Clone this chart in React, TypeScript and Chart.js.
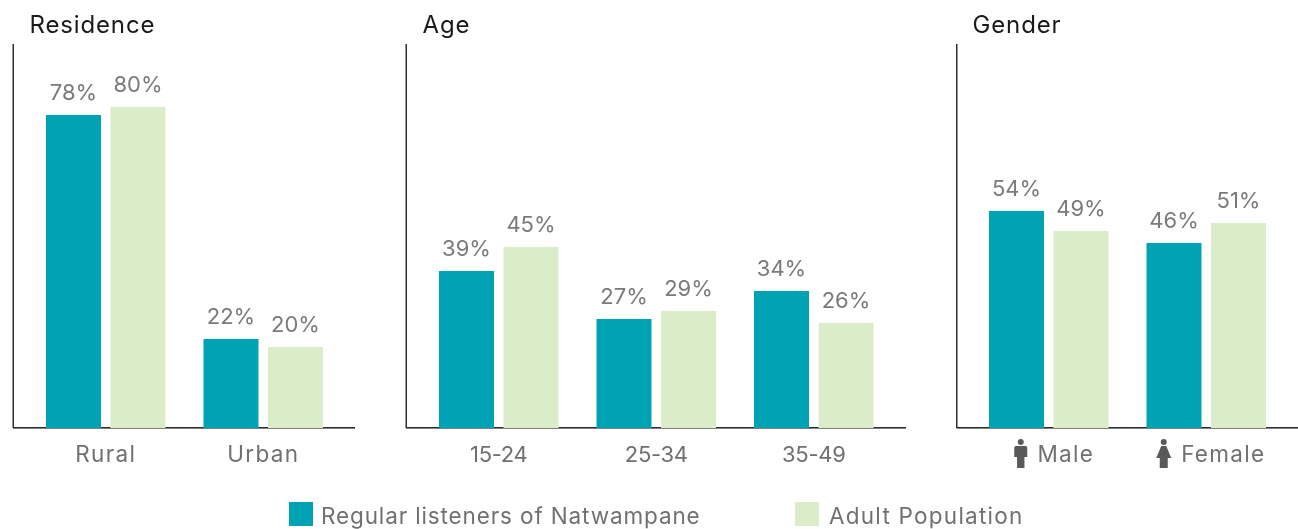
import React, { useEffect, useRef } from "react";
import { Chart, registerables } from "chart.js";

Chart.register(...registerables);

const FONT = "Inter";

const seriesNames = ["Regular listeners of Natwampane", "Adult Population"];
const seriesColors = ["#00A3B4", "#DBECC8"];

const residenceCategories = ["Rural", "Urban"];
const residenceListeners = [78, 22];
const residenceAdults = [80, 20];

const ageCategories = ["15-24", "25-34", "35-49"];
const ageListeners = [39, 27, 34];
const ageAdults = [45, 29, 26];

const genderCategories = ["Male", "Female"];
const genderListeners = [54, 46];
const genderAdults = [49, 51];

const panels = [
  { title: "Residence", categories: residenceCategories, a: residenceListeners, b: residenceAdults, left: 0, width: 368, axisLeft: 13, axisRight: 355, plotLeft: 27, plotRight: 342, labelOffset: 0, icons: false, tickSpacing: "1.3px", tickSize: 22.5 },
  { title: "Age", categories: ageCategories, a: ageListeners, b: ageAdults, left: 393, width: 525, axisLeft: 13, axisRight: 513, plotLeft: 27, plotRight: 499.5, labelOffset: 0, icons: false, tickSpacing: "-0.3px", tickSize: 22 },
  { title: "Gender", categories: genderCategories, a: genderListeners, b: genderAdults, left: 943, width: 355, axisLeft: 13.5, axisRight: 355, plotLeft: 27, plotRight: 342, labelOffset: 17, icons: true, tickSpacing: "1.3px", tickSize: 22.5 },
];

function drawMale(ctx: CanvasRenderingContext2D, cx: number) {
  ctx.beginPath();
  ctx.arc(cx, 442, 3, 0, Math.PI * 2);
  ctx.fill();
  ctx.beginPath();
  ctx.moveTo(cx - 5, 446);
  ctx.lineTo(cx + 5, 446);
  ctx.quadraticCurveTo(cx + 6.5, 446, cx + 6.5, 448);
  ctx.lineTo(cx + 6.5, 457);
  ctx.lineTo(cx + 3.7, 457);
  ctx.lineTo(cx + 3.7, 468);
  ctx.lineTo(cx - 3.7, 468);
  ctx.lineTo(cx - 3.7, 457);
  ctx.lineTo(cx - 6.5, 457);
  ctx.lineTo(cx - 6.5, 448);
  ctx.quadraticCurveTo(cx - 6.5, 446, cx - 5, 446);
  ctx.fill();
}

function drawFemale(ctx: CanvasRenderingContext2D, cx: number) {
  ctx.beginPath();
  ctx.arc(cx, 442, 3, 0, Math.PI * 2);
  ctx.fill();
  ctx.beginPath();
  ctx.moveTo(cx - 2.5, 446);
  ctx.lineTo(cx + 2.5, 446);
  ctx.lineTo(cx + 7.5, 458);
  ctx.lineTo(cx + 4, 458);
  ctx.lineTo(cx + 4, 468);
  ctx.lineTo(cx - 4, 468);
  ctx.lineTo(cx - 4, 458);
  ctx.lineTo(cx - 7.5, 458);
  ctx.closePath();
  ctx.fill();
}

function makePlugin(p: (typeof panels)[number]) {
  return {
    id: "panelDecor",
    beforeDraw(chart: any) {
      chart.ctx.letterSpacing = p.tickSpacing;
    },
    beforeDatasetsDraw(chart: any) {
      const { ctx, chartArea } = chart;
      ctx.save();
      ctx.lineWidth = 1;
      ctx.strokeStyle = "#808080";
      ctx.beginPath();
      ctx.moveTo(p.axisLeft, chartArea.bottom + 0.5);
      ctx.lineTo(p.axisRight, chartArea.bottom + 0.5);
      ctx.stroke();
      ctx.strokeStyle = "#2e2e2e";
      ctx.beginPath();
      ctx.moveTo(p.axisLeft, chartArea.bottom - 0.5);
      ctx.lineTo(p.axisRight, chartArea.bottom - 0.5);
      ctx.stroke();
      ctx.lineWidth = 1.5;
      ctx.beginPath();
      ctx.moveTo(p.axisLeft + 0.25, chartArea.top);
      ctx.lineTo(p.axisLeft + 0.25, chartArea.bottom);
      ctx.stroke();
      ctx.restore();
    },
    afterDatasetsDraw(chart: any) {
      const { ctx, chartArea } = chart;
      ctx.save();
      ctx.textAlign = "center";
      ctx.textBaseline = "alphabetic";
      ctx.fillStyle = "#7a7a7a";
      ctx.letterSpacing = "0px";
      ctx.font = `400 22px ${FONT}`;
      chart.data.datasets.forEach((ds: any, i: number) => {
        chart.getDatasetMeta(i).data.forEach((bar: any, j: number) => {
          ctx.fillText(`${ds.data[j]}%`, bar.x, bar.y - 15.5);
        });
      });
      ctx.fillStyle = "#1a1a1a";
      ctx.textAlign = "left";
      ctx.letterSpacing = "0.85px";
      ctx.font = `400 24px ${FONT}`;
      ctx.fillText(p.title, chartArea.left + 2.5, 33);
      ctx.letterSpacing = p.tickSpacing;
      if (p.icons) {
        const x = chart.scales.x;
        ctx.fillStyle = "#58595b";
        drawMale(ctx, x.getPixelForValue(0) - 28);
        drawFemale(ctx, x.getPixelForValue(1) - 42.5);
      }
      ctx.restore();
    },
  };
}

function Panel({ p }: { p: (typeof panels)[number] }) {
  const ref = useRef<HTMLCanvasElement>(null);
  useEffect(() => {
    const barStyle = { categoryPercentage: 0.819, barPercentage: 0.853, base: -0.25 };
    const chart = new Chart(ref.current!, {
      type: "bar",
      data: {
        labels: p.categories,
        datasets: [
          { label: seriesNames[0], data: p.a, backgroundColor: seriesColors[0], ...barStyle },
          { label: seriesNames[1], data: p.b, backgroundColor: seriesColors[1], ...barStyle },
        ],
      },
      options: {
        animation: false,
        responsive: false,
        devicePixelRatio: 1,
        layout: { padding: { left: p.plotLeft, right: p.width - p.plotRight, top: 44, bottom: 41 } },
        plugins: { legend: { display: false }, tooltip: { enabled: false }, title: { display: false } },
        scales: {
          x: {
            grid: { display: false },
            border: { display: false },
            afterFit(scale: any) {
              scale.height = 60;
            },
            ticks: {
              color: "#707070",
              padding: 6,
              labelOffset: p.labelOffset,
              maxRotation: 0,
              autoSkip: false,
              font: { family: FONT, size: p.tickSize, weight: "400" },
            },
          },
          y: { display: false, min: -0.25, max: 95.75 },
        },
      },
      plugins: [makePlugin(p)],
    } as any);
    return () => chart.destroy();
  }, [p]);
  return (
    <canvas
      ref={ref}
      width={p.width}
      height={529}
      style={{ position: "absolute", left: p.left, top: 0, width: p.width, height: 529 }}
    />
  );
}

const legendItems = [
  { swatchLeft: 289, textLeft: 321, spacing: "0.87px" },
  { swatchLeft: 795, textLeft: 829, spacing: "1.25px" },
];

export default function App() {
  return (
    <div style={{ position: "absolute", left: 0, top: 0, width: 1298, height: 529, overflow: "hidden", background: "#fff" }}>
      {panels.map((p) => (
        <Panel key={p.title} p={p} />
      ))}
      {seriesNames.map((name, i) => (
        <React.Fragment key={name}>
          <div style={{ position: "absolute", left: legendItems[i].swatchLeft, top: 502, width: 24, height: 24, background: seriesColors[i] }} />
          <div
            style={{
              position: "absolute",
              left: legendItems[i].textLeft,
              top: 502,
              lineHeight: "28px",
              whiteSpace: "nowrap",
              fontFamily: FONT,
              fontSize: 22.5,
              letterSpacing: legendItems[i].spacing,
              color: "#707070",
            }}
          >
            {name}
          </div>
        </React.Fragment>
      ))}
    </div>
  );
}
